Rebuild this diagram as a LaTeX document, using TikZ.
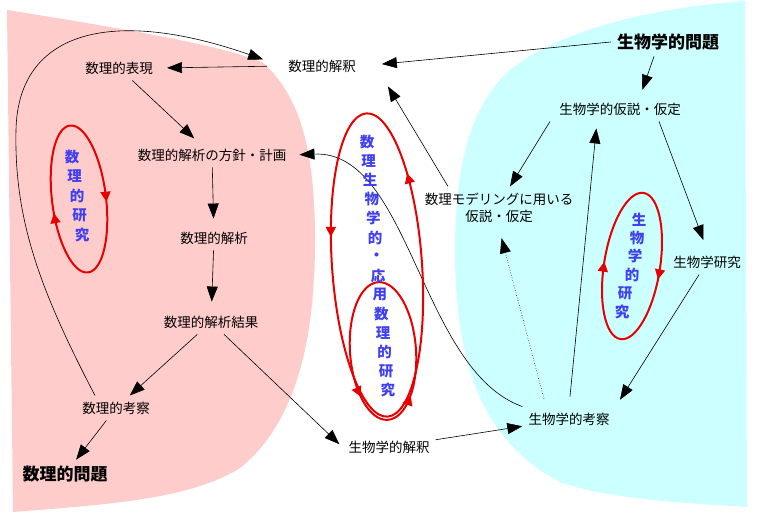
\documentclass[tikz,border=0pt]{standalone}
\usepackage{fontspec}
\setmainfont{Noto Sans CJK JP}
\usetikzlibrary{arrows.meta,decorations.markings}

\definecolor{pinkzone}{RGB}{255,204,204}
\definecolor{cyanzone}{RGB}{204,255,255}
\definecolor{loopred}{RGB}{230,0,0}
\definecolor{loopblue}{RGB}{64,64,240}

\begin{document}
\begin{tikzpicture}[x=1pt,y=-1pt,
    lbl/.style={font=\fontsize{13.5}{17}\selectfont, inner sep=6pt},
    bigtxt/.style={font=\fontsize{17}{20}\selectfont\bfseries, inner sep=6pt},
    vch/.style={font=\fontsize{14.5}{14.5}\selectfont\bfseries, text=loopblue, inner sep=0pt},
    arr/.style={-{Triangle[length=15pt,width=11pt]}, line width=0.6pt},
    loopline/.style={draw, color=loopred, line width=2pt},
    loopfwd/.style={postaction={decorate,decoration={markings,
        mark=at position #1 with {\arrow{Triangle[length=10pt,width=10pt]}}}}},
    loopbwd/.style={postaction={decorate,decoration={markings,
        mark=at position #1 with {\arrowreversed{Triangle[length=10pt,width=10pt]}}}}}]
        \useasboundingbox (0,0) rectangle (759,513);

        % области
        \fill[pinkzone] (7,10) .. controls (120,28) and (220,45) .. (262,62)
            .. controls (300,95) and (315,150) .. (315,240)
            .. controls (315,330) and (300,420) .. (240,468)
            .. controls (190,500) and (100,505) .. (13,512) -- cycle;
        \fill[cyanzone] (745,1) .. controls (650,8) and (560,30) .. (510,70)
            .. controls (465,110) and (455,180) .. (455,250)
            .. controls (455,360) and (480,440) .. (560,482)
            .. controls (610,500) and (690,503) .. (747,507) -- cycle;

        % понятия
        \node[lbl] (kaishaku) at (322,66) {数理的解釈};
        \node[lbl] (hyogen) at (119,68) {数理的表現};
        \node[lbl] (houshin) at (212,155) {数理的解析の方針・計画};
        \node[lbl] (bunseki) at (214,238) {数理的解析};
        \node[lbl] (kekka) at (211,322) {数理的解析結果};
        \node[lbl] (kousatsu) at (116,408) {数理的考察};
        \node[bigtxt] (sumondai) at (65,474) {数理的問題};
        \node[lbl] (seikaishaku) at (389,447) {生物学的解釈};
        \node[lbl] (seikousatsu) at (569,419) {生物学的考察};
        \node[lbl] (seikenkyu) at (707,262) {生物学研究};
        \node[bigtxt] (seimondai) at (668,42) {生物学的問題};
        \node[lbl] (seikasetsu) at (620,109) {生物学的仮説・仮定};
        \node[lbl, align=center] (model) at (499,207.5) {数理モデリングに用いる\\仮説・仮定};

        % стрелки
        \draw[arr, shorten <=15pt, shorten >=8pt] (kaishaku.west) -- (hyogen.east);
        \draw[arr, shorten >=6pt] (hyogen) -- (houshin);
        \draw[arr, shorten >=7pt] (houshin) -- (bunseki);
        \draw[arr, shorten >=8pt] (bunseki) -- (kekka);
        \draw[arr] (kekka) -- (kousatsu);
        \draw[arr] (kousatsu) -- (sumondai);
        \draw[arr, shorten >=4pt] (kekka) -- (seikaishaku.west);
        \draw[arr] (seikaishaku) -- (seikousatsu);
        \draw[arr, shorten >=8pt] (seikenkyu) -- (seikousatsu.north east);
        \draw[arr, shorten >=10pt] ([xshift=39pt]seikasetsu.south) -- (seikenkyu.north);
        \draw[arr, shorten >=7pt] ([xshift=-14pt]seimondai.south) -- ([xshift=20pt]seikasetsu.north);
        \draw[arr, shorten >=20pt] (seimondai.west) -- (kaishaku.east);
        \draw[arr] ([xshift=-70pt]seikasetsu.south) -- ([xshift=11pt]model.north);
        \draw[arr] ([xshift=-51pt]model.north) -- ([xshift=26pt,yshift=-8pt]kaishaku.south east);
        \draw[arr, shorten <=10pt, shorten >=7pt] (seikousatsu.north) -- ([xshift=-23pt]seikasetsu.south);
        \draw[arr, dotted, shorten <=8pt, shorten >=10pt] ([xshift=-23pt]seikousatsu.north) -- (model.south);
        \draw[arr, shorten >=7pt] (seikousatsu.north west) .. controls (420,370) and (410,150) .. (houshin.east);
        \draw[arr, shorten >=20pt] ([xshift=-21pt]kousatsu.north) .. controls (40,290) and (14,220) .. (16,130)
            .. controls (18,32) and (110,6) .. (kaishaku.west);

        % циклы
        \draw[loopline, rotate around={7:(79,199)}, loopbwd=0.982, loopbwd=0.533] (79,199) ellipse [x radius=27pt, y radius=74pt];
        \draw[loopline, rotate around={4:(377,265)}, loopfwd=0.135, loopfwd=0.453] (377,265) ellipse [x radius=45pt, y radius=152pt];
        \draw[loopline, rotate around={4:(383,351)}, loopfwd=0.636, loopfwd=0.857] (383,351) ellipse [x radius=33pt, y radius=69pt];
        \draw[loopline, rotate around={-9:(632,266)}, loopbwd=0.5, loopbwd=0.973] (632,266) ellipse [x radius=28pt, y radius=74pt];

        % надписи в циклах
        \node[vch] (l1) at (72,157) {数};
        \node[vch] (l2) at (74.5,176.5) {理};
        \node[vch] (l3) at (77,196) {的};
        \node[vch] (l4) at (79.5,215.5) {研};
        \node[vch] (l5) at (82,235) {究};

        \node[vch] (m1) at (367,142) {数};
        \node[vch] (m2) at (368.6,161.1) {理};
        \node[vch] (m3) at (370.2,180.2) {生};
        \node[vch] (m4) at (371.8,199.3) {物};
        \node[vch] (m5) at (373.4,218.4) {学};
        \node[vch] (m6) at (375,237.5) {的};
        \node[vch] (m7) at (376.6,256.6) {・};
        \node[vch] (m8) at (378.2,275.7) {応};
        \node[vch] (m9) at (379.8,294.8) {用};
        \node[vch] (m10) at (381.4,313.9) {数};
        \node[vch] (m11) at (383,333) {理};
        \node[vch] (m12) at (384.6,352.1) {的};
        \node[vch] (m13) at (386.2,371.2) {研};
        \node[vch] (m14) at (387.8,390.3) {究};

        \node[vch] (r1) at (639,220) {生};
        \node[vch] (r2) at (637,238) {物};
        \node[vch] (r3) at (635,256) {学};
        \node[vch] (r4) at (632,275) {的};
        \node[vch] (r5) at (625,293) {研};
        \node[vch] (r6) at (622,312) {究};
    \end{tikzpicture}
\end{document}
